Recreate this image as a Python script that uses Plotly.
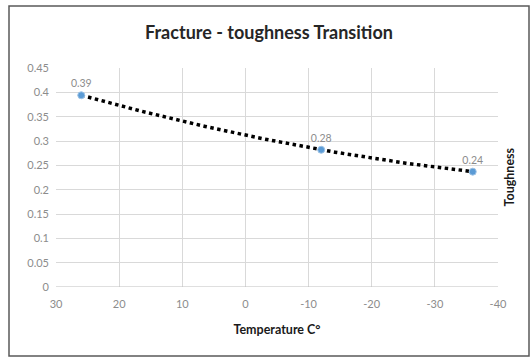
import numpy as np
import plotly.graph_objects as go

# Data
temperature = [26, -12, -36]
toughness = [0.394, 0.282, 0.237]
point_labels = ["0.39", "0.28", "0.24"]
x_tickvals = [30, 20, 10, 0, -10, -20, -30, -40]
x_ticktext = ["30", "20", "10", "0", "-10", "-20", "-30", "-40"]
y_tickvals = [0, 0.05, 0.1, 0.15, 0.2, 0.25, 0.3, 0.35, 0.4, 0.45]
y_ticktext = ["0", "0.05", "0.1", "0.15", "0.2", "0.25", "0.3", "0.35", "0.4", "0.45"]

# polynomial (order 2) trendline as in the spreadsheet chart
coef = np.polyfit(temperature, toughness, 2)
tx = np.linspace(max(temperature), min(temperature), 200)
ty = np.polyval(coef, tx)

L, R, T, B = 56, 33, 68, 71
PW, PH = 531 - L - R, 358 - T - B
FONT = "Lato, Open Sans, sans-serif"

fig = go.Figure()
fig.add_trace(go.Scatter(
    x=tx, y=ty, mode="lines",
    line=dict(color="black", width=3.5, dash="dot"),
    hoverinfo="skip", showlegend=False))
fig.add_trace(go.Scatter(
    x=temperature, y=toughness, mode="markers+text",
    marker=dict(color="#5B9BD5", size=7, line=dict(color="#9DC3E6", width=1)),
    text=point_labels, textposition="top center",
    textfont=dict(family=FONT, size=10.5, color="#8c8c8c"),
    showlegend=False))

fig.update_layout(
    width=531, height=358,
    margin=dict(l=L, r=R, t=T, b=B),
    paper_bgcolor="white", plot_bgcolor="white",
    title=dict(text="<b>Fracture - toughness Transition</b>", xref="container",
               x=269 / 531, xanchor="center", yref="container", y=1 - 33 / 358, yanchor="middle",
               font=dict(family=FONT, size=18, color="#262626")),
    xaxis=dict(range=[30, -40], tickvals=x_tickvals, ticktext=x_ticktext,
               showgrid=True, gridcolor="#d9d9d9", gridwidth=1, zeroline=False,
               showline=False, ticks="", ticklabelstandoff=9,
               tickfont=dict(family=FONT, size=11, color="#8c8c8c"),
               title=dict(text="<b>Temperature C°</b>", standoff=16,
                          font=dict(family=FONT, size=12.5, color="#1a1a1a"))),
    yaxis=dict(range=[0, 0.45], tickvals=y_tickvals, ticktext=y_ticktext,
               showgrid=True, gridcolor="#d9d9d9", gridwidth=1, zeroline=False,
               showline=False, ticks="", ticklabelstandoff=6,
               tickfont=dict(family=FONT, size=11, color="#8c8c8c")),
    annotations=[dict(text="<b>Toughness</b>", xref="paper", yref="paper",
                      x=(518 - L) / PW, y=(287 - 177) / PH, textangle=-90, showarrow=False,
                      font=dict(family=FONT, size=12.5, color="#1a1a1a"))],
    shapes=[
        dict(type="line", xref="paper", yref="y", x0=0, x1=1, y0=0, y1=0,
             line=dict(color="#bfbfbf", width=1)),
        dict(type="rect", xref="paper", yref="paper",
             x0=(9 - L) / PW, x1=(529 - L) / PW, y0=-(356 - (358 - B)) / PH, y1=((358 - B) - 6) / PH,
             line=dict(color="#595959", width=1.5)),
    ],
)

fig.write_html("out.html")
